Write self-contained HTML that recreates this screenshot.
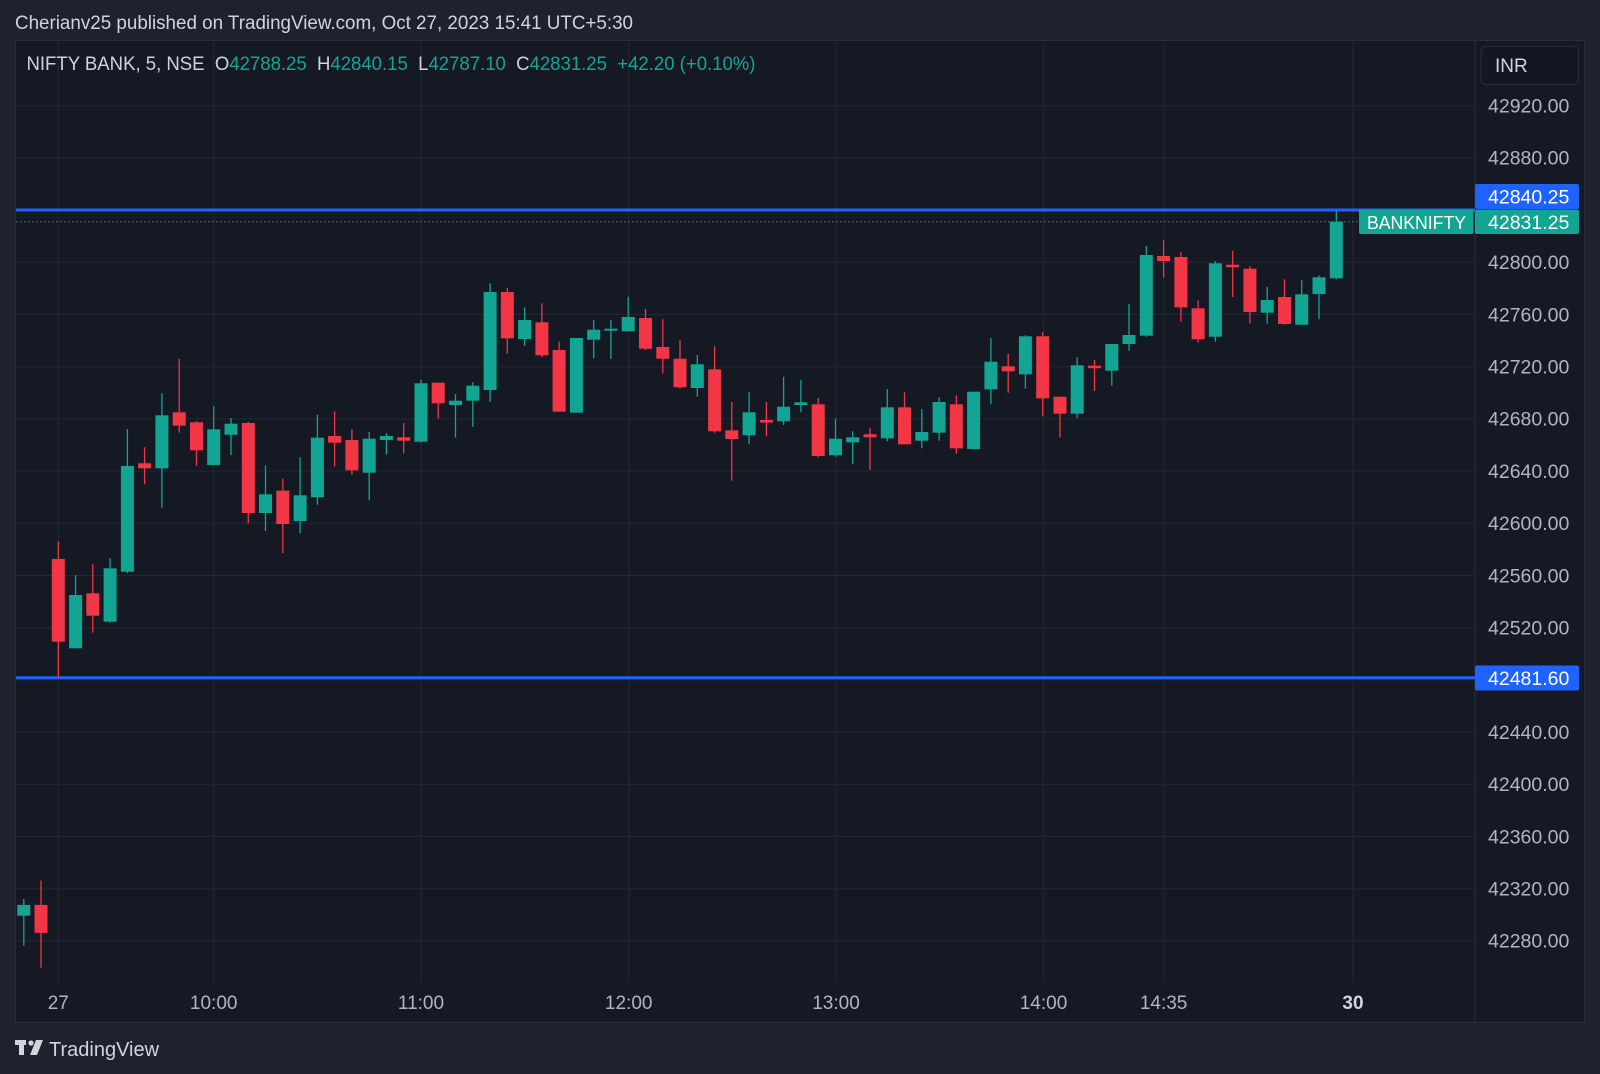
<!DOCTYPE html>
<html><head><meta charset="utf-8"><style>
html,body{margin:0;padding:0;background:#1e222d;}
svg{display:block;font-family:"Liberation Sans",Arial,sans-serif;}
</style></head><body>
<svg width="1600" height="1074" viewBox="0 0 1600 1074" xmlns="http://www.w3.org/2000/svg">
<rect x="0" y="0" width="1600" height="1074" fill="#1e222d"/>
<text x="15" y="29" font-size="19" fill="#d1d4dc" textLength="618" lengthAdjust="spacingAndGlyphs">Cherianv25 published on TradingView.com, Oct 27, 2023 15:41 UTC+5:30</text>
<rect x="15.5" y="40.5" width="1569" height="982" fill="#151924" stroke="#2a2e39"/>
<line x1="1475" y1="41" x2="1475" y2="1022" stroke="#2a2e39"/>
<!-- grid -->
<g stroke="#232733" stroke-width="1">
<line x1="16" x2="1475" y1="105.7" y2="105.7"/><line x1="16" x2="1475" y1="157.9" y2="157.9"/><line x1="16" x2="1475" y1="210.1" y2="210.1"/><line x1="16" x2="1475" y1="262.3" y2="262.3"/><line x1="16" x2="1475" y1="314.5" y2="314.5"/><line x1="16" x2="1475" y1="366.7" y2="366.7"/><line x1="16" x2="1475" y1="418.9" y2="418.9"/><line x1="16" x2="1475" y1="471.1" y2="471.1"/><line x1="16" x2="1475" y1="523.3" y2="523.3"/><line x1="16" x2="1475" y1="575.5" y2="575.5"/><line x1="16" x2="1475" y1="627.7" y2="627.7"/><line x1="16" x2="1475" y1="679.9" y2="679.9"/><line x1="16" x2="1475" y1="732.1" y2="732.1"/><line x1="16" x2="1475" y1="784.3" y2="784.3"/><line x1="16" x2="1475" y1="836.5" y2="836.5"/><line x1="16" x2="1475" y1="888.7" y2="888.7"/><line x1="16" x2="1475" y1="940.9" y2="940.9"/>
<line y1="41" y2="982" x1="58.3" x2="58.3"/><line y1="41" y2="982" x1="213.7" x2="213.7"/><line y1="41" y2="982" x1="421" x2="421"/><line y1="41" y2="982" x1="628.7" x2="628.7"/><line y1="41" y2="982" x1="836" x2="836"/><line y1="41" y2="982" x1="1043.5" x2="1043.5"/><line y1="41" y2="982" x1="1163.6" x2="1163.6"/><line y1="41" y2="982" x1="1353" x2="1353"/>
</g>
<!-- legend -->
<text x="26.5" y="70" font-size="19" fill="#d1d4dc" xml:space="preserve" textLength="729" lengthAdjust="spacingAndGlyphs">NIFTY BANK, 5, NSE  O<tspan fill="#12a594">42788.25</tspan>  H<tspan fill="#12a594">42840.15</tspan>  L<tspan fill="#12a594">42787.10</tspan>  C<tspan fill="#12a594">42831.25</tspan>  <tspan fill="#12a594">+42.20 (+0.10%)</tspan></text>
<!-- horizontal lines -->
<line x1="16" x2="1475" y1="221.7" y2="221.7" stroke="#12a594" stroke-dasharray="1.5 2.5" stroke-width="1"/>
<line x1="16" x2="1475" y1="210" y2="210" stroke="#1e62ff" stroke-width="3"/>
<line x1="16" x2="1475" y1="677.8" y2="677.8" stroke="#1e62ff" stroke-width="3"/>
<!-- candles green -->
<g stroke="#12a594" stroke-width="1.3">
<line x1="23.8" x2="23.8" y1="899" y2="945.7"/><line x1="75.6" x2="75.6" y1="575" y2="648.3"/><line x1="110.1" x2="110.1" y1="558.3" y2="622.7"/><line x1="127.4" x2="127.4" y1="429" y2="573.3"/><line x1="161.9" x2="161.9" y1="393.3" y2="507.7"/><line x1="213.7" x2="213.7" y1="406" y2="465"/><line x1="231" x2="231" y1="418" y2="455"/><line x1="265.5" x2="265.5" y1="465.3" y2="531"/><line x1="300.1" x2="300.1" y1="457.3" y2="533.3"/><line x1="317.4" x2="317.4" y1="414.7" y2="504.7"/><line x1="369.2" x2="369.2" y1="432" y2="500.3"/><line x1="386.4" x2="386.4" y1="433.3" y2="454.3"/><line x1="421" x2="421" y1="380" y2="442.7"/><line x1="455.5" x2="455.5" y1="394" y2="437.7"/><line x1="472.8" x2="472.8" y1="382.3" y2="426.7"/><line x1="490.1" x2="490.1" y1="283.3" y2="401.7"/><line x1="524.6" x2="524.6" y1="307.3" y2="345.7"/><line x1="593.7" x2="593.7" y1="320" y2="358.3"/><line x1="610.9" x2="610.9" y1="320" y2="359"/><line x1="628.2" x2="628.2" y1="296.7" y2="331.3"/><line x1="697.3" x2="697.3" y1="355" y2="396.7"/><line x1="749.1" x2="749.1" y1="392.3" y2="444.3"/><line x1="783.6" x2="783.6" y1="376.7" y2="425"/><line x1="800.9" x2="800.9" y1="380" y2="412.3"/><line x1="835.5" x2="835.5" y1="418.7" y2="456.7"/><line x1="852.7" x2="852.7" y1="431.3" y2="464"/><line x1="887.3" x2="887.3" y1="389" y2="441.3"/><line x1="921.8" x2="921.8" y1="409" y2="448.3"/><line x1="939.1" x2="939.1" y1="397.3" y2="440.7"/><line x1="990.9" x2="990.9" y1="338" y2="404.3"/><line x1="1025.4" x2="1025.4" y1="335.3" y2="388.7"/><line x1="1077.2" x2="1077.2" y1="357.3" y2="418"/><line x1="1111.8" x2="1111.8" y1="344" y2="385.7"/><line x1="1129" x2="1129" y1="304" y2="350.7"/><line x1="1146.3" x2="1146.3" y1="246" y2="336.7"/><line x1="1215.4" x2="1215.4" y1="261" y2="341.7"/><line x1="1267.2" x2="1267.2" y1="287" y2="323.7"/><line x1="1301.7" x2="1301.7" y1="280" y2="324.7"/><line x1="1319" x2="1319" y1="275.3" y2="319.3"/><line x1="1336.3" x2="1336.3" y1="210.7" y2="279.3"/>
</g>
<g fill="#12a594">
<rect x="17.3" y="904.9" width="13" height="10.8"/><rect x="69.1" y="595" width="13" height="53.3"/><rect x="103.6" y="568.3" width="13" height="53.4"/><rect x="120.9" y="466" width="13" height="105.7"/><rect x="155.4" y="415.3" width="13" height="53"/><rect x="207.2" y="429.3" width="13" height="35.7"/><rect x="224.5" y="423.7" width="13" height="11"/><rect x="259" y="494.3" width="13" height="18.7"/><rect x="293.6" y="495.3" width="13" height="25.7"/><rect x="310.9" y="437.7" width="13" height="59.6"/><rect x="362.7" y="438.7" width="13" height="34"/><rect x="379.9" y="436" width="13" height="4"/><rect x="414.5" y="383.3" width="13" height="58.4"/><rect x="449" y="400.7" width="13" height="4.3"/><rect x="466.3" y="385.7" width="13" height="15"/><rect x="483.6" y="292" width="13" height="98"/><rect x="518.1" y="320" width="13" height="19"/><rect x="569.9" y="338" width="13" height="74.7"/><rect x="587.2" y="329.7" width="13" height="10"/><rect x="604.4" y="328.7" width="13" height="2"/><rect x="621.7" y="317" width="13" height="14.3"/><rect x="690.8" y="364.3" width="13" height="23.7"/><rect x="742.6" y="412.3" width="13" height="23"/><rect x="777.1" y="406.7" width="13" height="14.6"/><rect x="794.4" y="402.3" width="13" height="2.7"/><rect x="829" y="438.7" width="13" height="16.6"/><rect x="846.2" y="437.3" width="13" height="5"/><rect x="880.8" y="407.3" width="13" height="31"/><rect x="915.3" y="432" width="13" height="8.7"/><rect x="932.6" y="402" width="13" height="30.7"/><rect x="967.1" y="391.7" width="13" height="57.3"/><rect x="984.4" y="361.7" width="13" height="27.6"/><rect x="1018.9" y="336.3" width="13" height="38"/><rect x="1070.7" y="365.3" width="13" height="48.4"/><rect x="1105.3" y="344" width="13" height="26.7"/><rect x="1122.5" y="335" width="13" height="9"/><rect x="1139.8" y="255" width="13" height="80.7"/><rect x="1208.9" y="263.3" width="13" height="73.4"/><rect x="1260.7" y="300" width="13" height="12.7"/><rect x="1295.2" y="294.3" width="13" height="30.4"/><rect x="1312.5" y="277.3" width="13" height="16.7"/><rect x="1329.8" y="221.7" width="13" height="56.6"/>
</g>
<!-- candles red -->
<g stroke="#f23645" stroke-width="1.3">
<line x1="41" x2="41" y1="880.5" y2="967.7"/><line x1="58.3" x2="58.3" y1="541.3" y2="677.6"/><line x1="92.8" x2="92.8" y1="564.3" y2="632.7"/><line x1="144.6" x2="144.6" y1="447.3" y2="484.3"/><line x1="179.2" x2="179.2" y1="359" y2="432.7"/><line x1="196.5" x2="196.5" y1="421" y2="465.7"/><line x1="248.3" x2="248.3" y1="422" y2="523.3"/><line x1="282.8" x2="282.8" y1="478.7" y2="553"/><line x1="334.6" x2="334.6" y1="411.3" y2="466.3"/><line x1="351.9" x2="351.9" y1="429.3" y2="474.7"/><line x1="403.7" x2="403.7" y1="423" y2="453.3"/><line x1="438.2" x2="438.2" y1="382.7" y2="418.7"/><line x1="507.3" x2="507.3" y1="288" y2="353.7"/><line x1="541.9" x2="541.9" y1="303.3" y2="357.3"/><line x1="559.1" x2="559.1" y1="341.7" y2="411.7"/><line x1="645.5" x2="645.5" y1="309" y2="350"/><line x1="662.8" x2="662.8" y1="319.3" y2="373.3"/><line x1="680" x2="680" y1="340" y2="388.3"/><line x1="714.6" x2="714.6" y1="346.3" y2="432.7"/><line x1="731.8" x2="731.8" y1="402" y2="480.6"/><line x1="766.4" x2="766.4" y1="402" y2="436.3"/><line x1="818.2" x2="818.2" y1="398" y2="457.3"/><line x1="870" x2="870" y1="428" y2="470"/><line x1="904.5" x2="904.5" y1="392.3" y2="444.3"/><line x1="956.3" x2="956.3" y1="395.3" y2="454"/><line x1="1008.2" x2="1008.2" y1="353.7" y2="392.7"/><line x1="1042.7" x2="1042.7" y1="332" y2="416.3"/><line x1="1060" x2="1060" y1="396.7" y2="437.3"/><line x1="1094.5" x2="1094.5" y1="359.7" y2="391"/><line x1="1163.6" x2="1163.6" y1="240.3" y2="277.7"/><line x1="1180.9" x2="1180.9" y1="252" y2="321.7"/><line x1="1198.1" x2="1198.1" y1="300.3" y2="342.3"/><line x1="1232.7" x2="1232.7" y1="250.7" y2="297"/><line x1="1249.9" x2="1249.9" y1="266" y2="323.3"/><line x1="1284.5" x2="1284.5" y1="279.3" y2="324.7"/>
</g>
<g fill="#f23645">
<rect x="34.5" y="904.9" width="13" height="28"/><rect x="51.8" y="559" width="13" height="82.7"/><rect x="86.3" y="593.3" width="13" height="22.4"/><rect x="138.1" y="463.3" width="13" height="5"/><rect x="172.7" y="412.3" width="13" height="13.4"/><rect x="190" y="422.3" width="13" height="28"/><rect x="241.8" y="423" width="13" height="90"/><rect x="276.3" y="490.7" width="13" height="33.3"/><rect x="328.1" y="436" width="13" height="6.7"/><rect x="345.4" y="440" width="13" height="30.3"/><rect x="397.2" y="437.3" width="13" height="3.4"/><rect x="431.7" y="382.7" width="13" height="20.6"/><rect x="500.8" y="292" width="13" height="46.3"/><rect x="535.4" y="322.3" width="13" height="33"/><rect x="552.6" y="350" width="13" height="61.7"/><rect x="639" y="318" width="13" height="30.7"/><rect x="656.3" y="347" width="13" height="11.7"/><rect x="673.5" y="358.7" width="13" height="28.6"/><rect x="708.1" y="369.3" width="13" height="62"/><rect x="725.3" y="430.3" width="13" height="8.7"/><rect x="759.9" y="420" width="13" height="2.5"/><rect x="811.7" y="404.3" width="13" height="51.7"/><rect x="863.5" y="434.3" width="13" height="3"/><rect x="898" y="407.3" width="13" height="37"/><rect x="949.8" y="404.3" width="13" height="44"/><rect x="1001.7" y="366.3" width="13" height="5"/><rect x="1036.2" y="336.3" width="13" height="62"/><rect x="1053.5" y="396.7" width="13" height="17"/><rect x="1088" y="365.7" width="13" height="2.5"/><rect x="1157.1" y="256" width="13" height="5"/><rect x="1174.4" y="257" width="13" height="50.3"/><rect x="1191.6" y="308.3" width="13" height="31"/><rect x="1226.2" y="264.7" width="13" height="2.5"/><rect x="1243.4" y="268.7" width="13" height="43.3"/><rect x="1278" y="297" width="13" height="27"/>
</g>
<!-- price axis labels -->
<g font-size="19.5" fill="#b2b5be">
<text x="1488" y="112.5">42920.00</text><text x="1488" y="164.7">42880.00</text><text x="1488" y="269.1">42800.00</text><text x="1488" y="321.3">42760.00</text><text x="1488" y="373.5">42720.00</text><text x="1488" y="425.7">42680.00</text><text x="1488" y="477.9">42640.00</text><text x="1488" y="530.1">42600.00</text><text x="1488" y="582.3">42560.00</text><text x="1488" y="634.5">42520.00</text><text x="1488" y="738.9">42440.00</text><text x="1488" y="791.1">42400.00</text><text x="1488" y="843.3">42360.00</text><text x="1488" y="895.5">42320.00</text><text x="1488" y="947.7">42280.00</text>
</g>
<rect x="1481" y="46.5" width="97.5" height="38" rx="5" fill="#131722" stroke="#2a2e39"/>
<text x="1495" y="72" font-size="19" fill="#d1d4dc">INR</text>
<rect x="1475" y="184" width="104" height="25" rx="2" fill="#1e62ff"/>
<text x="1488" y="203.5" font-size="19.5" fill="#ffffff">42840.25</text>
<rect x="1359" y="209.5" width="114.5" height="24.5" rx="2" fill="#12a594"/>
<text x="1367" y="229" font-size="18" fill="#ffffff" textLength="99" lengthAdjust="spacingAndGlyphs">BANKNIFTY</text>
<rect x="1475" y="209.5" width="104" height="24.5" rx="2" fill="#12a594"/>
<text x="1488" y="229" font-size="19.5" fill="#ffffff">42831.25</text>
<rect x="1475" y="665.5" width="104" height="25" rx="2" fill="#1e62ff"/>
<text x="1488" y="685" font-size="19.5" fill="#ffffff">42481.60</text>
<!-- time axis -->
<g font-size="19" fill="#b2b5be" text-anchor="middle">
<text x="58.3" y="1009">27</text><text x="213.7" y="1009">10:00</text><text x="421" y="1009">11:00</text><text x="628.7" y="1009">12:00</text><text x="836" y="1009">13:00</text><text x="1043.5" y="1009">14:00</text><text x="1163.6" y="1009">14:35</text><text x="1353" y="1009" font-weight="bold" fill="#d1d4dc">30</text>
</g>
<!-- footer logo -->
<g fill="#d1d4dc">
<rect x="15" y="1040" width="11" height="5"/><rect x="19" y="1040" width="5" height="15"/>
<circle cx="31" cy="1043" r="2.6"/>
<polygon points="36,1040 43,1040 37,1055 30,1055"/>
</g>
<text x="49" y="1056" font-size="20" fill="#d1d4dc">TradingView</text>
</svg>
</body></html>
